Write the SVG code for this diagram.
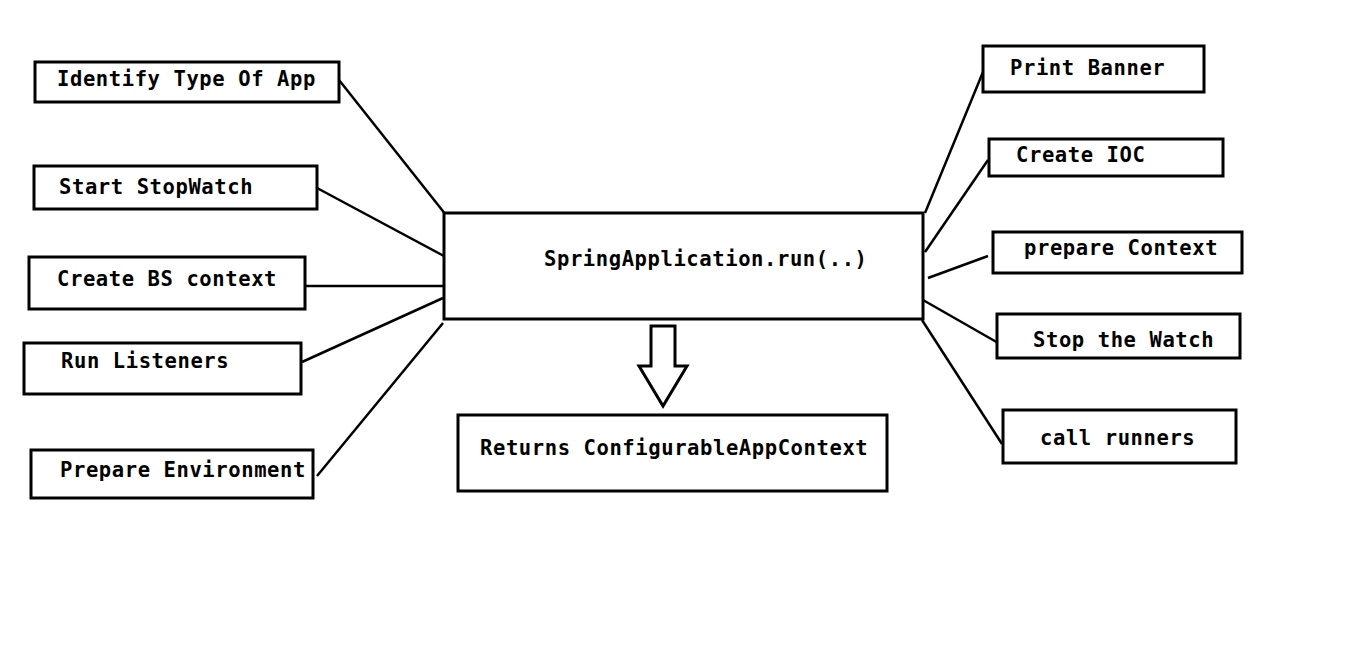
<svg xmlns="http://www.w3.org/2000/svg" width="1359" height="654" viewBox="0 0 1359 654">
<style>
.box{fill:#fff;stroke:#000;stroke-width:3}
.t{font-family:"DejaVu Sans Mono","Liberation Mono",monospace;font-weight:bold;font-size:20.5px;letter-spacing:0.6px;fill:#000}
.c{stroke:#000;stroke-width:2.5;fill:none}
</style>
<rect width="1359" height="654" fill="#fff"/>
<g id="connectors">
<line class="c" x1="339" y1="80" x2="446" y2="215"/>
<line class="c" x1="317" y1="188" x2="444" y2="256"/>
<line class="c" x1="305" y1="286" x2="446" y2="286"/>
<line class="c" x1="302" y1="362" x2="443" y2="298"/>
<line class="c" x1="317" y1="476" x2="443" y2="323"/>
<line class="c" x1="925" y1="213" x2="983" y2="72"/>
<line class="c" x1="925" y1="252" x2="988" y2="160"/>
<line class="c" x1="928" y1="278" x2="988" y2="256"/>
<line class="c" x1="923" y1="300" x2="1000" y2="344"/>
<line class="c" x1="922" y1="320" x2="1002" y2="444"/>
<polygon id="arrow" points="651,326 675,326 675,366 687,366 663,406 639,366 651,366" fill="#fff" stroke="#000" stroke-width="3"/>
</g>
<g id="n-identify"><rect class="box" x="35" y="62" width="304" height="40"/><text class="t" x="57" y="86">Identify Type Of App</text></g>
<g id="n-stopwatch"><rect class="box" x="34" y="166" width="283" height="43"/><text class="t" x="59" y="194">Start StopWatch</text></g>
<g id="n-bs"><rect class="box" x="29" y="257" width="276" height="52"/><text class="t" x="57" y="286">Create BS context</text></g>
<g id="n-listeners"><rect class="box" x="24" y="343" width="277" height="51"/><text class="t" x="61" y="368">Run Listeners</text></g>
<g id="n-env"><rect class="box" x="31" y="450" width="282" height="48"/><text class="t" x="60" y="477">Prepare Environment</text></g>
<g id="n-run"><rect class="box" x="444" y="213" width="479" height="106"/><text class="t" x="544" y="266">SpringApplication.run(..)</text></g>
<g id="n-returns"><rect class="box" x="458" y="415" width="429" height="76"/><text class="t" x="480" y="455">Returns ConfigurableAppContext</text></g>
<g id="n-banner"><rect class="box" x="983" y="46" width="221" height="46"/><text class="t" x="1010" y="75">Print Banner</text></g>
<g id="n-ioc"><rect class="box" x="989" y="139" width="234" height="37"/><text class="t" x="1016" y="162">Create IOC</text></g>
<g id="n-context"><rect class="box" x="993" y="232" width="249" height="41"/><text class="t" x="1024" y="255">prepare Context</text></g>
<g id="n-stop"><rect class="box" x="997" y="314" width="243" height="44"/><text class="t" x="1033" y="347">Stop the Watch</text></g>
<g id="n-runners"><rect class="box" x="1003" y="410" width="233" height="53"/><text class="t" x="1040" y="445">call runners</text></g>
</svg>
